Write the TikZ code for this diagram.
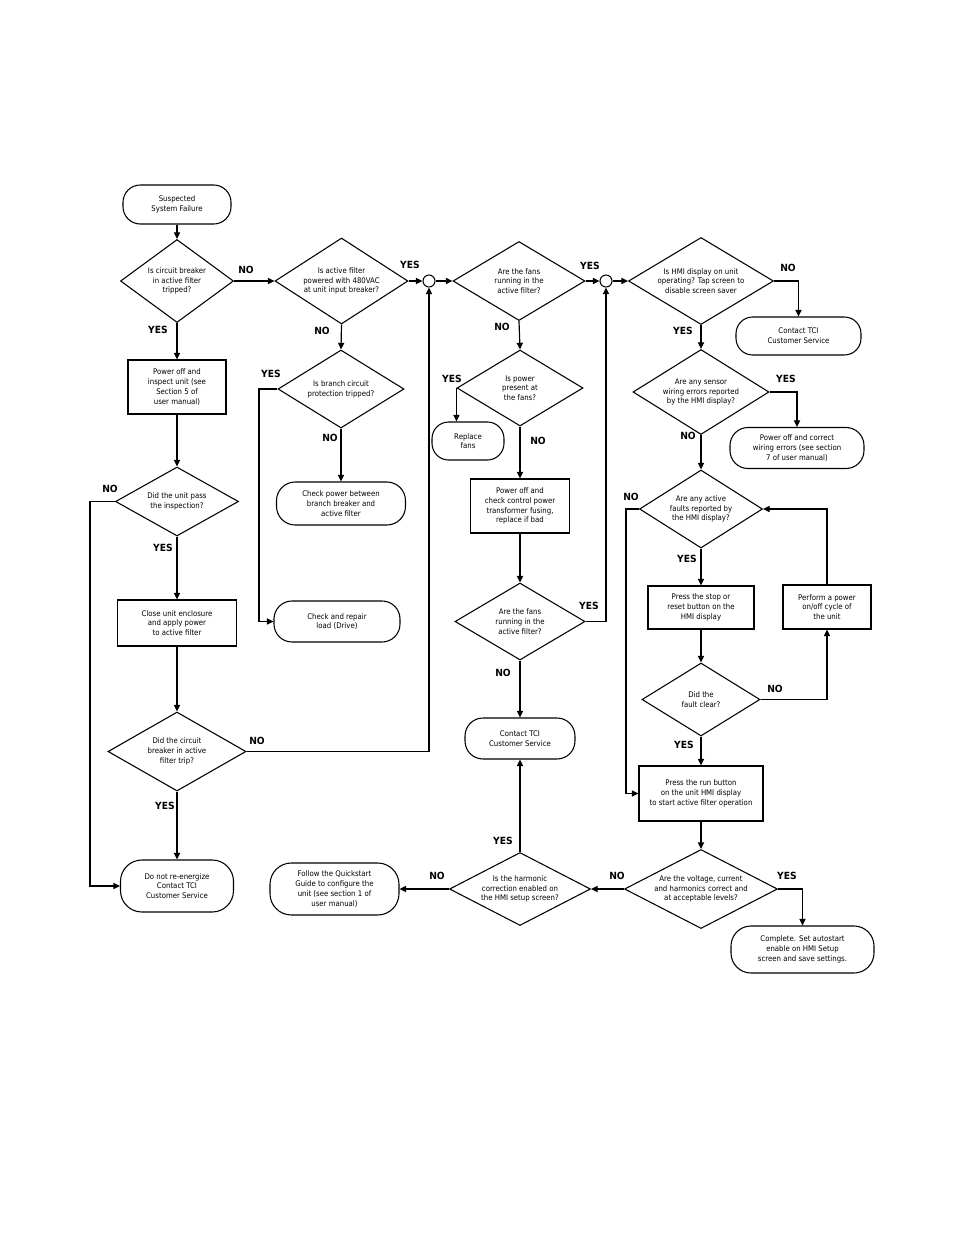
\documentclass[tikz,border=0pt]{standalone}
\usepackage{fontspec}
\setmainfont{DejaVu Sans}[FakeStretch=0.9]
\newfontfamily\lblfont{DejaVu Sans}[FakeStretch=0.93]
\usetikzlibrary{shapes.geometric,arrows.meta}
\begin{document}
\begin{tikzpicture}[x=0.75pt,y=-0.75pt,
  every node/.style={inner sep=0pt},
  txt/.style={align=center,font=\fontsize{5.8}{7.3}\selectfont},
  dia/.style={diamond,draw,line width=0.8pt},
  pbox/.style={rectangle,draw,line width=0.8pt,align=center,font=\fontsize{5.8}{7.3}\selectfont},
  term/.style={rectangle,draw,line width=0.8pt,rounded corners=#1,align=center,font=\fontsize{5.8}{7.3}\selectfont},
  junc/.style={circle,draw,line width=0.8pt,minimum size=9pt},
  arr/.style={line width=0.9pt,-{Triangle[length=5pt,width=4.6pt]}},
  lbl/.style={font=\lblfont\bfseries\fontsize{7.4}{8}\selectfont}
]
\fill[white] (0,0) rectangle (954,1235);
\useasboundingbox (0,0) rectangle (954,1235);

% column 1
\node[term=13pt,minimum width=81pt,minimum height=29.25pt] (start) at (177,204.5) {Suspected\\System Failure};
\node[dia,minimum width=84.75pt,minimum height=62.25pt] (d1) at (177,281) {};
\node[txt] (d1t) at (177,281) {Is circuit breaker\\in active filter\\tripped?};
\node[pbox,minimum width=73.5pt,minimum height=40.5pt] (box1) at (177,387) {Power off and\\inspect unit (see\\Section 5 of\\user manual)};
\node[dia,minimum width=92.25pt,minimum height=51.75pt] (d6) at (177,501.5) {};
\node[txt] (d6t) at (177,501.5) {Did the unit pass\\the inspection?};
\node[pbox,minimum width=89.25pt,minimum height=34.5pt] (close) at (177,623) {Close unit enclosure\\and apply power\\to active filter};
\node[dia,minimum width=103.5pt,minimum height=59.25pt] (d7) at (177,751.5) {};
\node[txt] (d7t) at (177,751.5) {Did the circuit\\breaker in active\\filter trip?};
\node[term=16pt,minimum width=84.75pt,minimum height=39pt] (donot) at (177,886) {Do not re-energize\\Contact TCI\\Customer Service};

% column 2
\node[dia,minimum width=99.75pt,minimum height=64.5pt] (d2) at (341.5,281) {};
\node[txt] (d2t) at (341.5,281) {Is active filter\\powered with 480VAC\\at unit input breaker?};
\node[dia,minimum width=94.5pt,minimum height=58.5pt] (d5) at (341,389) {};
\node[txt] (d5t) at (341,389) {Is branch circuit\\protection tripped?};
\node[term=14pt,minimum width=96.75pt,minimum height=32.25pt] (chk1) at (341,503.5) {Check power between\\branch breaker and\\active filter};
\node[term=13.5pt,minimum width=94.5pt,minimum height=30.75pt] (repair) at (337,621.5) {Check and repair\\load (Drive)};
\node[term=16pt,minimum width=96.75pt,minimum height=39pt] (follow) at (334.5,889) {Follow the Quickstart\\Guide to configure the\\unit (see section 1 of\\user manual)};

\node[junc] (c1) at (429,281) {};

% column 3
\node[dia,minimum width=99pt,minimum height=59.25pt] (d3) at (519,281) {};
\node[txt] (d3t) at (519,281) {Are the fans\\running in the\\active filter?};
\node[dia,minimum width=94.5pt,minimum height=57pt] (d8) at (520,388) {};
\node[txt] (d8t) at (520,388) {Is power\\present at\\the fans?};
\node[term=12.5pt,minimum width=54pt,minimum height=28.5pt] (replace) at (468,441) {Replace\\fans};
\node[pbox,minimum width=74.25pt,minimum height=40.5pt] (pwr2) at (520,506) {Power off and\\check control power\\transformer fusing,\\replace if bad};
\node[dia,minimum width=97.5pt,minimum height=57.75pt] (d9) at (520,621.5) {};
\node[txt] (d9t) at (520,621.5) {Are the fans\\running in the\\active filter?};
\node[term=13.5pt,minimum width=82.5pt,minimum height=30.75pt] (cts2) at (520,738.5) {Contact TCI\\Customer Service};
\node[dia,minimum width=105.75pt,minimum height=54.75pt] (d14) at (520,889) {};
\node[txt] (d14t) at (520,889) {Is the harmonic\\correction enabled on\\the HMI setup screen?};

\node[junc] (c2) at (606,281) {};

% column 4
\node[dia,minimum width=108.75pt,minimum height=65.25pt] (d4) at (701,281) {};
\node[txt] (d4t) at (701,281) {Is HMI display on unit\\operating? Tap screen to\\disable screen saver};
\node[term=12.5pt,minimum width=93.75pt,minimum height=28.5pt] (cts1) at (798.5,336) {Contact TCI\\Customer Service};
\node[dia,minimum width=102pt,minimum height=63.75pt] (d10) at (701,392) {};
\node[txt] (d10t) at (701,392) {Are any sensor\\wiring errors reported\\by the HMI display?};
\node[term=13.5pt,minimum width=100.5pt,minimum height=30.75pt] (wiring) at (797,448) {Power off and correct\\wiring errors (see section\\7 of user manual)};
\node[dia,minimum width=92.25pt,minimum height=58.5pt] (d11) at (701,509) {};
\node[txt] (d11t) at (701,509) {Are any active\\faults reported by\\the HMI display?};
\node[pbox,minimum width=79.5pt,minimum height=32.25pt] (stop) at (701,607.5) {Press the stop or\\reset button on the\\HMI display};
\node[pbox,minimum width=66pt,minimum height=33pt] (perform) at (827,607) {Perform a power\\on/off cycle of\\the unit};
\node[dia,minimum width=88.5pt,minimum height=54.75pt] (d12) at (701,699.5) {};
\node[txt] (d12t) at (701,699.5) {Did the\\fault clear?};
\node[pbox,minimum width=93pt,minimum height=41.25pt] (run) at (701,793.5) {Press the run button\\on the unit HMI display\\to start active filter operation};
\node[dia,minimum width=114.75pt,minimum height=59.25pt] (d13) at (701,889) {};
\node[txt] (d13t) at (701,889) {Are the voltage, current\\and harmonics correct and\\at acceptable levels?};
\node[term=15pt,minimum width=107.25pt,minimum height=35.25pt] (complete) at (802.5,949.5) {Complete. Set autostart\\enable on HMI Setup\\screen and save settings.};

% bend points
\coordinate (k5) at (259,389);
\coordinate (k6) at (90,501.5);
\coordinate (k11) at (626,509);

% connectors
\draw[arr] (start.south) -- (d1.north);
\draw[arr] (d1.east) -- (d2.west);
\draw[arr] (d2.east) -- (c1.west);
\draw[arr] (c1.east) -- (d3.west);
\draw[arr] (d3.east) -- (c2.west);
\draw[arr] (c2.east) -- (d4.west);
\draw[arr] (d4.east) -| (cts1.north);
\draw[arr] (d1.south) -- (box1.north);
\draw[arr] (d2.south) -- (d5.north);
\draw[arr] (d5.south) -- (chk1.north);
\draw[arr] (d5.west) -- (k5) |- (repair.west);
\draw[arr] (box1.south) -- (d6.north);
\draw[arr] (d6.west) -- (k6) |- (donot.west);
\draw[arr] (d6.south) -- (close.north);
\draw[arr] (close.south) -- (d7.north);
\draw[arr] (d7.south) -- (donot.north);
\draw[arr] (d7.east) -| (c1.south);
\draw[arr] (d3.south) -- (d8.north);
\draw[arr] (d8.west) -- (d8.west |- replace.north);
\draw[arr] (d8.south) -- (pwr2.north);
\draw[arr] (pwr2.south) -- (d9.north);
\draw[arr] (d9.east) -| (c2.south);
\draw[arr] (d9.south) -- (cts2.north);
\draw[arr] (d4.south) -- (d10.north);
\draw[arr] (d10.east) -| (wiring.north);
\draw[arr] (d10.south) -- (d11.north);
\draw[arr] (d11.west) -- (k11) |- (run.west);
\draw[arr] (d11.south) -- (stop.north);
\draw[arr] (stop.south) -- (d12.north);
\draw[arr] (d12.east) -| (perform.south);
\draw[arr] (perform.north) |- (d11.east);
\draw[arr] (d12.south) -- (run.north);
\draw[arr] (run.south) -- (d13.north);
\draw[arr] (d13.east) -| (complete.north);
\draw[arr] (d13.west) -- (d14.east);
\draw[arr] (d14.north) -- (cts2.south);
\draw[arr] (d14.west) -- (follow.east);

% labels
\node[lbl] (l1) at (246,270) {NO};
\node[lbl] (l2) at (410,265) {YES};
\node[lbl] (l3) at (590,266) {YES};
\node[lbl] (l4) at (788,268) {NO};
\node[lbl] (l5) at (158,330) {YES};
\node[lbl] (l6) at (322,331) {NO};
\node[lbl] (l7) at (271,374) {YES};
\node[lbl] (l8) at (330,438) {NO};
\node[lbl] (l9) at (110,489) {NO};
\node[lbl] (l10) at (163,548) {YES};
\node[lbl] (l11) at (257,741) {NO};
\node[lbl] (l12) at (165,806) {YES};
\node[lbl] (l13) at (502,327) {NO};
\node[lbl] (l14) at (452,379) {YES};
\node[lbl] (l15) at (538,441) {NO};
\node[lbl] (l16) at (589,606) {YES};
\node[lbl] (l17) at (503,673) {NO};
\node[lbl] (l18) at (683,331) {YES};
\node[lbl] (l19) at (786,379) {YES};
\node[lbl] (l20) at (688,436) {NO};
\node[lbl] (l21) at (631,497) {NO};
\node[lbl] (l22) at (687,559) {YES};
\node[lbl] (l23) at (775,689) {NO};
\node[lbl] (l24) at (684,745) {YES};
\node[lbl] (l25) at (787,876) {YES};
\node[lbl] (l26) at (617,876) {NO};
\node[lbl] (l27) at (437,876) {NO};
\node[lbl] (l28) at (503,841) {YES};
\end{tikzpicture}
\end{document}
